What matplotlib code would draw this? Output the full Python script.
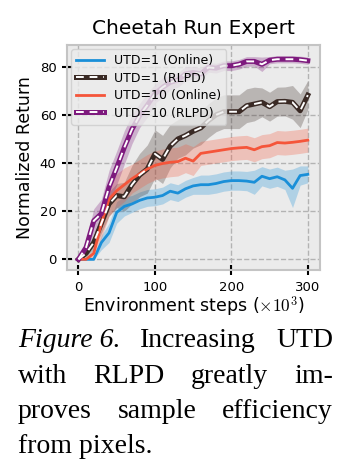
import matplotlib
matplotlib.use('Agg')
import matplotlib.pyplot as plt
import numpy as np
from matplotlib.legend_handler import HandlerTuple

plt.rcParams['mathtext.fontset'] = 'cm'

steps = np.arange(0, 301, 10)

utd1_online = [0, 0, 0, 7, 11, 19.5, 22, 23, 24.5, 25.5, 25.8, 26.5, 28.3, 27.5, 29.3, 30.5,
               31, 31, 31.5, 32.3, 32.7, 32.7, 32.5, 32, 34.5, 33.5, 34.3, 33, 29.5, 34.8, 35.3]
utd1_online_std = [0, 0, 0, 3, 4, 4.5, 4, 3.5, 3.5, 3.5, 3.5, 3.5, 3.5, 3.5, 3.5, 3.5,
                   4, 4, 4, 4, 4, 4, 4, 5, 4, 4, 4, 4, 8, 4, 3.5]

utd1_rlpd = [0, 2.5, 7, 15, 23, 26.5, 26, 31, 35, 37.5, 43.8, 41.5, 47, 50, 51.4, 53.2,
             54.6, 57.6, 60, 61.3, 61.3, 61.3, 63.8, 64.5, 65.2, 63.4, 65.5, 65.6, 65.2, 61.7, 68.2]
utd1_rlpd_std = [0, 1.5, 3, 4, 5, 5, 6, 8, 9, 10, 10, 10, 9, 8, 8, 7,
                 7, 7, 7, 7, 7, 7, 7, 7, 6, 6, 6, 6, 7, 7, 6]

utd10_online = [0, 0, 2.5, 15, 25, 28.5, 31, 33.5, 35.5, 37.5, 39, 39.8, 40.3, 40.6, 42, 40.8,
                44, 44.5, 45, 45.5, 46, 46.3, 46.5, 45.5, 46.8, 47.2, 48.5, 48.3, 48.6, 49, 49.5]
utd10_online_std = [0, 0, 2, 6, 7, 7, 7, 6, 6, 6, 6, 6, 6, 6, 6, 6,
                    5, 5, 5, 5, 5, 5, 5, 5, 5, 5, 5, 5, 5, 5, 5]

utd10_rlpd = [0, 5, 16, 19, 30, 38, 46.5, 54, 59.7, 64, 68.7, 71.4, 73.5, 74.5, 77, 77.6,
              77, 79.7, 79.4, 80.4, 80.4, 81, 82.2, 82.2, 81, 82.7, 83.1, 83.1, 83.1, 82.9, 82.5]
utd10_rlpd_std = [0, 3, 5, 6, 7, 7, 7, 6, 5, 5, 4, 4, 3, 3, 3, 2.5,
                  2.5, 2, 2, 2, 2, 2, 2, 2, 3, 1.5, 1.5, 1.5, 1.5, 1.5, 1.5]

caption_lines = [
    [('Figure 6.', 'italic'), ('Increasing', 'normal'), ('UTD', 'normal')],
    [('with', 'normal'), ('RLPD', 'normal'), ('greatly', 'normal'), ('im-', 'normal')],
    [('proves', 'normal'), ('sample', 'normal'), ('efficiency', 'normal')],
    [('from pixels.', 'normal')],
]

fig = plt.figure(figsize=(3.49, 4.74), dpi=100)
ax = fig.add_axes([0.192, 0.430, 0.725, 0.475])
ax.set_facecolor('#ebebeb')

series = [
    ('UTD=1 (Online)', utd1_online, utd1_online_std, '#1a8fd8', False),
    ('UTD=1 (RLPD)', utd1_rlpd, utd1_rlpd_std, '#3a2a25', True),
    ('UTD=10 (Online)', utd10_online, utd10_online_std, '#f5553a', False),
    ('UTD=10 (RLPD)', utd10_rlpd, utd10_rlpd_std, '#7e1a7e', True),
]

handles = []
labels = []
for label, mean, std, color, dashed in series:
    mean = np.array(mean)
    std = np.array(std)
    ax.fill_between(steps, mean - std, mean + std, color=color, alpha=0.28, lw=0)
    if dashed:
        base, = ax.plot(steps, mean, color=color, lw=3.6, zorder=3)
        top, = ax.plot(steps, mean, color='white', lw=1.4, ls=(0, (4, 3)), zorder=4)
        handles.append((base, top))
    else:
        base, = ax.plot(steps, mean, color=color, lw=2, zorder=3)
        handles.append(base)
    labels.append(label)

ax.set_xlim(-15, 316)
ax.set_ylim(-4.5, 89)
ax.set_xticks([0, 100, 200, 300])
ax.set_yticks([0, 20, 40, 60, 80])
ax.grid(True, ls='--', color='#b3b3b3', lw=1)
ax.set_axisbelow(True)
ax.tick_params(direction='inout', length=7, width=1.5, labelsize=9.5, pad=4)
for sp in ax.spines.values():
    sp.set_color('#c4c4c4')
    sp.set_linewidth(1.5)

ax.set_title('Cheetah Run Expert', fontsize=14.5, pad=8)
ax.set_ylabel('Normalized Return', fontsize=12.5)
ax.set_xlabel(r'Environment steps ($\times 10^3$)', fontsize=12.5, labelpad=1)

leg = ax.legend(handles, labels, loc='upper left', fontsize=9,
                handler_map={tuple: HandlerTuple(ndivide=1)},
                handlelength=2.2, labelspacing=0.35, borderaxespad=0.35,
                framealpha=0.8, edgecolor='#cccccc', facecolor='#ebebeb')

# justified caption below the axes
fig.canvas.draw()
renderer = fig.canvas.get_renderer()
x0, x1 = 18 / 349, 333 / 349
baselines = [347, 383, 418, 453]
for words, yb in zip(caption_lines, baselines):
    texts = [fig.text(0, 1 - yb / 474, w, family='Liberation Serif', style=s,
                      fontsize=20, va='baseline') for w, s in words]
    widths = [t.get_window_extent(renderer).width / fig.bbox.width for t in texts]
    if len(texts) > 1:
        gap = (x1 - x0 - sum(widths)) / (len(texts) - 1)
    else:
        gap = 0
    x = x0
    for t, w in zip(texts, widths):
        t.set_x(x)
        x += w + gap

fig.savefig('out.png', dpi=100)
